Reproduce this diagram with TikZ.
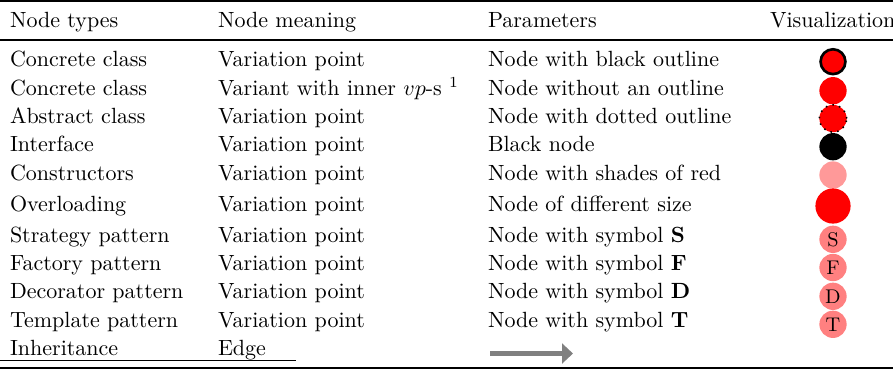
\documentclass[tikz,border=0pt]{standalone}
\usepackage{amsmath}
\usepackage{tikz}
\usetikzlibrary{arrows.meta,shapes,positioning}

\begin{document}
\begin{tikzpicture}[x=0.4545pt,y=-0.4545pt,>={Triangle[length=5pt,width=9pt]}]
  \tikzstyle{cell}=[anchor=base west,inner sep=0pt,outer sep=0pt]
  \tikzstyle{vnode}=[circle,inner sep=0pt,fill=red,minimum size=12.4pt]
  \tikzstyle{outlined}=[vnode,draw=black,line width=1.2pt,minimum size=11.3pt]
  \tikzstyle{dotline}=[vnode,draw=black,line width=0.7pt,dash pattern=on 0.7pt off 2.4pt]
  \tikzstyle{shade}=[vnode,fill=red!40]
  \tikzstyle{bignode}=[vnode,minimum size=16pt]
  \tikzstyle{symb}=[vnode,fill=red!50,font=\small]
  \tikzstyle{heavyrule}=[line width=0.9pt]
  \tikzstyle{lightrule}=[line width=0.5pt]

  \useasboundingbox (0,0) rectangle (893,370);

  \begin{scope}
    % header
    \node [cell] (tH) at (10,27.5)  {Node types};
    \node [cell] (mH) at (218,27.5) {Node meaning};
    \node [cell] (pH) at (488,27.5) {Parameters};
    \node [cell] (vH) at (770,27.5) {Visualization};

    % rows
    \node [cell] (t1) at (10,66.5)   {Concrete class};
    \node [cell] (t2) at (10,95)     {Concrete class};
    \node [cell] (t3) at (10,123.3)  {Abstract class};
    \node [cell] (t4) at (10,151.7)  {Interface};
    \node [cell] (t5) at (10,180)    {Constructors};
    \node [cell] (t6) at (10,211)    {Overloading};
    \node [cell] (t7) at (10,242)    {Strategy pattern};
    \node [cell] (t8) at (10,270)    {Factory pattern};
    \node [cell] (t9) at (10,298.5)  {Decorator pattern};
    \node [cell] (t10) at (10,327)   {Template pattern};
    \node [cell] (t11) at (10,355)   {Inheritance};

    \node [cell] (m1) at (218,66.5)   {Variation point};
    \node [cell] (m2) at (218,95)     {Variant with inner $vp$-s $^1$};
    \node [cell] (m3) at (218,123.3)  {Variation point};
    \node [cell] (m4) at (218,151.7)  {Variation point};
    \node [cell] (m5) at (218,180)    {Variation point};
    \node [cell] (m6) at (218,211)    {Variation point};
    \node [cell] (m7) at (218,242)    {Variation point};
    \node [cell] (m8) at (218,270)    {Variation point};
    \node [cell] (m9) at (218,298.5)  {Variation point};
    \node [cell] (m10) at (218,327)   {Variation point};
    \node [cell] (m11) at (218,355)   {Edge};

    \node [cell] (p1) at (488,66.5)  {Node with black outline};
    \node [cell] (p2) at (488,95)    {Node without an outline};
    \node [cell] (p3) at (488,123.3) {Node with dotted outline};
    \node [cell] (p4) at (488,151.7) {Black node};
    \node [cell] (p5) at (488,180)   {Node with shades of red};
    \node [cell] (p6) at (488,211)   {Node of different size};
    \node [cell] (p7) at (488,242)   {Node with symbol \textbf{S}};
    \node [cell] (p8) at (488,270)   {Node with symbol \textbf{F}};
    \node [cell] (p9) at (488,298.5) {Node with symbol \textbf{D}};
    \node [cell] (p10) at (488,327)  {Node with symbol \textbf{T}};
  \end{scope}

  \begin{scope}
    % visualization column
    \node [outlined] (v1) at (833,61.7)  {};
    \node [vnode]    (v2) at (833,90.7)  {};
    \node [dotline]  (v3) at (833,118.5) {};
    \node [vnode,fill=black] (v4) at (833,146.7) {};
    \node [shade]    (v5) at (833,175)   {};
    \node [bignode]  (v6) at (833,206)   {};
    \node [symb]     (v7) at (833,239.3) {S};
    \node [symb]     (v8) at (833,267.5) {F};
    \node [symb]     (v9) at (833,296.3) {D};
    \node [symb]     (v10) at (833,324.3) {T};
    \coordinate (a0) at (490,353.5);
    \coordinate (a1) at (573,353.5);
    \draw [->, line width=2.3pt, gray] (a0) -- (a1);
  \end{scope}

  \begin{scope}
    % rules
    \coordinate (tl) at (0,1.2);
    \coordinate (tr) at (893,1.2);
    \coordinate (ml) at (0,40);
    \coordinate (mr) at (893,40);
    \coordinate (cl) at (0,360.5);
    \coordinate (cr) at (296,360.5);
    \coordinate (bl) at (0,367.5);
    \coordinate (br) at (893,367.5);
    \draw [heavyrule] (tl) -- (tr);
    \draw [lightrule] (ml) -- (mr);
    \draw [lightrule] (cl) -- (cr);
    \draw [heavyrule] (bl) -- (br);
  \end{scope}
\end{tikzpicture}
\end{document}
